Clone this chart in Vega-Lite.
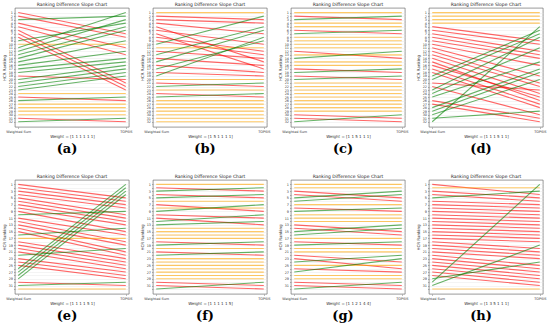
{
"$schema": "https://vega.github.io/schema/vega-lite/v6.json",
"padding": {"left": 1, "top": 1, "right": 1, "bottom": 0},
"background": "white",
"config": {
 "font": "DejaVu Sans",
 "view": {"stroke": "#555", "strokeWidth": 0.6},
 "title": {"fontSize": 4.5, "fontWeight": "normal", "color": "#222", "offset": 2},
 "axis": {"labelFontSize": 3.4, "titleFontSize": 4, "titleFontWeight": "normal", "labelColor": "#333", "titleColor": "#333", "tickSize": 1.5, "tickWidth": 0.4, "tickColor": "#555", "domain": false, "labelPadding": 1, "titlePadding": 2}
},
"datasets": {"s": [
{"p":"a","ws":1,"ts":7},{"p":"a","ws":2,"ts":8},{"p":"a","ws":3,"ts":2},{"p":"a","ws":4,"ts":11},{"p":"a","ws":5,"ts":13},{"p":"a","ws":6,"ts":21},{"p":"a","ws":7,"ts":22},{"p":"a","ws":8,"ts":23},{"p":"a","ws":9,"ts":4},{"p":"a","ws":10,"ts":10},{"p":"a","ws":11,"ts":1},{"p":"a","ws":12,"ts":3},{"p":"a","ws":13,"ts":5},{"p":"a","ws":14,"ts":6},{"p":"a","ws":15,"ts":9},{"p":"a","ws":16,"ts":12},{"p":"a","ws":17,"ts":14},{"p":"a","ws":18,"ts":15},{"p":"a","ws":19,"ts":20},{"p":"a","ws":20,"ts":16},{"p":"a","ws":21,"ts":17},{"p":"a","ws":22,"ts":18},{"p":"a","ws":23,"ts":19},{"p":"a","ws":24,"ts":24},{"p":"a","ws":25,"ts":26},{"p":"a","ws":26,"ts":25},{"p":"a","ws":27,"ts":27},{"p":"a","ws":28,"ts":28},{"p":"a","ws":29,"ts":29},{"p":"a","ws":30,"ts":30},{"p":"a","ws":31,"ts":32},{"p":"a","ws":32,"ts":31},
{"p":"b","ws":1,"ts":1},{"p":"b","ws":2,"ts":3},{"p":"b","ws":3,"ts":4},{"p":"b","ws":4,"ts":7},{"p":"b","ws":5,"ts":15},{"p":"b","ws":6,"ts":10},{"p":"b","ws":7,"ts":17},{"p":"b","ws":8,"ts":12},{"p":"b","ws":9,"ts":13},{"p":"b","ws":10,"ts":2},{"p":"b","ws":11,"ts":11},{"p":"b","ws":12,"ts":14},{"p":"b","ws":13,"ts":5},{"p":"b","ws":14,"ts":16},{"p":"b","ws":15,"ts":6},{"p":"b","ws":16,"ts":18},{"p":"b","ws":17,"ts":9},{"p":"b","ws":18,"ts":19},{"p":"b","ws":19,"ts":8},{"p":"b","ws":20,"ts":20},{"p":"b","ws":21,"ts":22},{"p":"b","ws":22,"ts":21},{"p":"b","ws":23,"ts":23},{"p":"b","ws":24,"ts":25},{"p":"b","ws":25,"ts":24},{"p":"b","ws":26,"ts":26},{"p":"b","ws":27,"ts":27},{"p":"b","ws":28,"ts":28},{"p":"b","ws":29,"ts":29},{"p":"b","ws":30,"ts":30},{"p":"b","ws":31,"ts":31},{"p":"b","ws":32,"ts":32},
{"p":"c","ws":1,"ts":1},{"p":"c","ws":2,"ts":3},{"p":"c","ws":3,"ts":2},{"p":"c","ws":4,"ts":4},{"p":"c","ws":5,"ts":5},{"p":"c","ws":6,"ts":7},{"p":"c","ws":7,"ts":6},{"p":"c","ws":8,"ts":8},{"p":"c","ws":9,"ts":9},{"p":"c","ws":10,"ts":10},{"p":"c","ws":11,"ts":11},{"p":"c","ws":12,"ts":14},{"p":"c","ws":13,"ts":13},{"p":"c","ws":14,"ts":12},{"p":"c","ws":15,"ts":15},{"p":"c","ws":16,"ts":16},{"p":"c","ws":17,"ts":18},{"p":"c","ws":18,"ts":17},{"p":"c","ws":19,"ts":20},{"p":"c","ws":20,"ts":19},{"p":"c","ws":21,"ts":21},{"p":"c","ws":22,"ts":22},{"p":"c","ws":23,"ts":23},{"p":"c","ws":24,"ts":24},{"p":"c","ws":25,"ts":25},{"p":"c","ws":26,"ts":26},{"p":"c","ws":27,"ts":27},{"p":"c","ws":28,"ts":28},{"p":"c","ws":29,"ts":29},{"p":"c","ws":30,"ts":31},{"p":"c","ws":31,"ts":32},{"p":"c","ws":32,"ts":30},
{"p":"d","ws":1,"ts":1},{"p":"d","ws":2,"ts":2},{"p":"d","ws":3,"ts":3},{"p":"d","ws":4,"ts":4},{"p":"d","ws":5,"ts":9},{"p":"d","ws":6,"ts":10},{"p":"d","ws":7,"ts":12},{"p":"d","ws":8,"ts":13},{"p":"d","ws":9,"ts":14},{"p":"d","ws":10,"ts":16},{"p":"d","ws":11,"ts":19},{"p":"d","ws":12,"ts":21},{"p":"d","ws":13,"ts":22},{"p":"d","ws":14,"ts":24},{"p":"d","ws":15,"ts":26},{"p":"d","ws":16,"ts":25},{"p":"d","ws":17,"ts":27},{"p":"d","ws":18,"ts":28},{"p":"d","ws":19,"ts":6},{"p":"d","ws":20,"ts":7},{"p":"d","ws":21,"ts":23},{"p":"d","ws":22,"ts":30},{"p":"d","ws":23,"ts":8},{"p":"d","ws":24,"ts":11},{"p":"d","ws":25,"ts":15},{"p":"d","ws":26,"ts":31},{"p":"d","ws":27,"ts":32},{"p":"d","ws":28,"ts":17},{"p":"d","ws":29,"ts":18},{"p":"d","ws":30,"ts":20},{"p":"d","ws":31,"ts":29},{"p":"d","ws":32,"ts":5},
{"p":"e","ws":1,"ts":5},{"p":"e","ws":2,"ts":6},{"p":"e","ws":3,"ts":7},{"p":"e","ws":4,"ts":8},{"p":"e","ws":5,"ts":10},{"p":"e","ws":6,"ts":11},{"p":"e","ws":7,"ts":12},{"p":"e","ws":8,"ts":13},{"p":"e","ws":9,"ts":15},{"p":"e","ws":10,"ts":9},{"p":"e","ws":11,"ts":16},{"p":"e","ws":12,"ts":18},{"p":"e","ws":13,"ts":19},{"p":"e","ws":14,"ts":21},{"p":"e","ws":15,"ts":22},{"p":"e","ws":16,"ts":14},{"p":"e","ws":17,"ts":17},{"p":"e","ws":18,"ts":23},{"p":"e","ws":19,"ts":24},{"p":"e","ws":20,"ts":25},{"p":"e","ws":21,"ts":26},{"p":"e","ws":22,"ts":20},{"p":"e","ws":23,"ts":27},{"p":"e","ws":24,"ts":28},{"p":"e","ws":25,"ts":29},{"p":"e","ws":26,"ts":1},{"p":"e","ws":27,"ts":2},{"p":"e","ws":28,"ts":3},{"p":"e","ws":29,"ts":4},{"p":"e","ws":30,"ts":31},{"p":"e","ws":31,"ts":30},{"p":"e","ws":32,"ts":32},
{"p":"f","ws":1,"ts":1},{"p":"f","ws":2,"ts":3},{"p":"f","ws":3,"ts":2},{"p":"f","ws":4,"ts":5},{"p":"f","ws":5,"ts":4},{"p":"f","ws":6,"ts":6},{"p":"f","ws":7,"ts":9},{"p":"f","ws":8,"ts":8},{"p":"f","ws":9,"ts":7},{"p":"f","ws":10,"ts":11},{"p":"f","ws":11,"ts":13},{"p":"f","ws":12,"ts":10},{"p":"f","ws":13,"ts":12},{"p":"f","ws":14,"ts":14},{"p":"f","ws":15,"ts":15},{"p":"f","ws":16,"ts":16},{"p":"f","ws":17,"ts":17},{"p":"f","ws":18,"ts":19},{"p":"f","ws":19,"ts":18},{"p":"f","ws":20,"ts":20},{"p":"f","ws":21,"ts":22},{"p":"f","ws":22,"ts":21},{"p":"f","ws":23,"ts":23},{"p":"f","ws":24,"ts":24},{"p":"f","ws":25,"ts":25},{"p":"f","ws":26,"ts":26},{"p":"f","ws":27,"ts":27},{"p":"f","ws":28,"ts":28},{"p":"f","ws":29,"ts":29},{"p":"f","ws":30,"ts":31},{"p":"f","ws":31,"ts":32},{"p":"f","ws":32,"ts":30},
{"p":"g","ws":1,"ts":1},{"p":"g","ws":2,"ts":2},{"p":"g","ws":3,"ts":5},{"p":"g","ws":4,"ts":6},{"p":"g","ws":5,"ts":3},{"p":"g","ws":6,"ts":4},{"p":"g","ws":7,"ts":7},{"p":"g","ws":8,"ts":9},{"p":"g","ws":9,"ts":8},{"p":"g","ws":10,"ts":10},{"p":"g","ws":11,"ts":11},{"p":"g","ws":12,"ts":12},{"p":"g","ws":13,"ts":15},{"p":"g","ws":14,"ts":16},{"p":"g","ws":15,"ts":13},{"p":"g","ws":16,"ts":14},{"p":"g","ws":17,"ts":17},{"p":"g","ws":18,"ts":19},{"p":"g","ws":19,"ts":18},{"p":"g","ws":20,"ts":20},{"p":"g","ws":21,"ts":21},{"p":"g","ws":22,"ts":24},{"p":"g","ws":23,"ts":26},{"p":"g","ws":24,"ts":22},{"p":"g","ws":25,"ts":25},{"p":"g","ws":26,"ts":27},{"p":"g","ws":27,"ts":23},{"p":"g","ws":28,"ts":28},{"p":"g","ws":29,"ts":29},{"p":"g","ws":30,"ts":31},{"p":"g","ws":31,"ts":32},{"p":"g","ws":32,"ts":30},
{"p":"h","ws":1,"ts":4},{"p":"h","ws":2,"ts":2},{"p":"h","ws":3,"ts":5},{"p":"h","ws":4,"ts":6},{"p":"h","ws":5,"ts":3},{"p":"h","ws":6,"ts":7},{"p":"h","ws":7,"ts":8},{"p":"h","ws":8,"ts":9},{"p":"h","ws":9,"ts":10},{"p":"h","ws":10,"ts":11},{"p":"h","ws":11,"ts":12},{"p":"h","ws":12,"ts":13},{"p":"h","ws":13,"ts":14},{"p":"h","ws":14,"ts":15},{"p":"h","ws":15,"ts":16},{"p":"h","ws":16,"ts":17},{"p":"h","ws":17,"ts":18},{"p":"h","ws":18,"ts":20},{"p":"h","ws":19,"ts":21},{"p":"h","ws":20,"ts":22},{"p":"h","ws":21,"ts":23},{"p":"h","ws":22,"ts":25},{"p":"h","ws":23,"ts":26},{"p":"h","ws":24,"ts":27},{"p":"h","ws":25,"ts":28},{"p":"h","ws":26,"ts":29},{"p":"h","ws":27,"ts":30},{"p":"h","ws":28,"ts":31},{"p":"h","ws":29,"ts":24},{"p":"h","ws":30,"ts":1},{"p":"h","ws":31,"ts":19},{"p":"h","ws":32,"ts":32}
]},
"spacing": 16,
"vconcat": [
 {"spacing": 6, "hconcat": [
  {"title": {"text": "(a)", "orient": "bottom", "anchor": "middle", "font": "DejaVu Serif", "fontSize": 13, "fontWeight": "bold", "color": "#000", "offset": 4},
   "vconcat": [{"width": 114, "height": 119, "title": "Ranking Difference Slope Chart", "data": {"name": "s"},
    "transform": [{"filter": "datum.p=='a'"}, {"fold": ["ws", "ts"], "as": ["m", "r"]}],
    "mark": {"type": "line", "strokeWidth": 1.1, "opacity": 0.6},
    "encoding": {
     "x": {"field": "m", "type": "nominal", "scale": {"type": "point", "domain": ["ws", "ts"], "padding": 0.03}, "axis": {"labelExpr": "datum.value=='ws'?'Weighted Sum':'TOPSIS'", "labelAngle": 0, "title": "Weight = [1 1 1 1 1 1]"}},
     "y": {"field": "r", "type": "quantitative", "scale": {"domain": [-0.3, 33.5], "reverse": true, "nice": false, "zero": false}, "axis": {"values": [1,2,3,4,5,6,7,8,9,10,11,12,13,14,15,16,17,18,19,20,21,22,23,24,25,26,27,28,29,30,31,32], "title": "HCR Ranking", "grid": true, "gridColor": "#e4e4e4", "gridWidth": 0.4}},
     "detail": {"field": "ws", "type": "nominal"},
     "color": {"condition": [{"test": "datum.ts<datum.ws", "value": "green"}, {"test": "datum.ts>datum.ws", "value": "red"}], "value": "orange"}
    }}]},
  {"title": {"text": "(b)", "orient": "bottom", "anchor": "middle", "font": "DejaVu Serif", "fontSize": 13, "fontWeight": "bold", "color": "#000", "offset": 4},
   "vconcat": [{"width": 114, "height": 119, "title": "Ranking Difference Slope Chart", "data": {"name": "s"},
    "transform": [{"filter": "datum.p=='b'"}, {"fold": ["ws", "ts"], "as": ["m", "r"]}],
    "mark": {"type": "line", "strokeWidth": 1.1, "opacity": 0.6},
    "encoding": {
     "x": {"field": "m", "type": "nominal", "scale": {"type": "point", "domain": ["ws", "ts"], "padding": 0.03}, "axis": {"labelExpr": "datum.value=='ws'?'Weighted Sum':'TOPSIS'", "labelAngle": 0, "title": "Weight = [1 5 1 1 1 1]"}},
     "y": {"field": "r", "type": "quantitative", "scale": {"domain": [-0.3, 33.5], "reverse": true, "nice": false, "zero": false}, "axis": {"values": [1,2,3,4,5,6,7,8,9,10,11,12,13,14,15,16,17,18,19,20,21,22,23,24,25,26,27,28,29,30,31,32], "title": "HCR Ranking", "grid": true, "gridColor": "#e4e4e4", "gridWidth": 0.4}},
     "detail": {"field": "ws", "type": "nominal"},
     "color": {"condition": [{"test": "datum.ts<datum.ws", "value": "green"}, {"test": "datum.ts>datum.ws", "value": "red"}], "value": "orange"}
    }}]},
  {"title": {"text": "(c)", "orient": "bottom", "anchor": "middle", "font": "DejaVu Serif", "fontSize": 13, "fontWeight": "bold", "color": "#000", "offset": 4},
   "vconcat": [{"width": 114, "height": 119, "title": "Ranking Difference Slope Chart", "data": {"name": "s"},
    "transform": [{"filter": "datum.p=='c'"}, {"fold": ["ws", "ts"], "as": ["m", "r"]}],
    "mark": {"type": "line", "strokeWidth": 1.1, "opacity": 0.6},
    "encoding": {
     "x": {"field": "m", "type": "nominal", "scale": {"type": "point", "domain": ["ws", "ts"], "padding": 0.03}, "axis": {"labelExpr": "datum.value=='ws'?'Weighted Sum':'TOPSIS'", "labelAngle": 0, "title": "Weight = [1 1 5 1 1 1]"}},
     "y": {"field": "r", "type": "quantitative", "scale": {"domain": [-0.3, 33.5], "reverse": true, "nice": false, "zero": false}, "axis": {"values": [1,2,3,4,5,6,7,8,9,10,11,12,13,14,15,16,17,18,19,20,21,22,23,24,25,26,27,28,29,30,31,32], "title": "HCR Ranking", "grid": true, "gridColor": "#e4e4e4", "gridWidth": 0.4}},
     "detail": {"field": "ws", "type": "nominal"},
     "color": {"condition": [{"test": "datum.ts<datum.ws", "value": "green"}, {"test": "datum.ts>datum.ws", "value": "red"}], "value": "orange"}
    }}]},
  {"title": {"text": "(d)", "orient": "bottom", "anchor": "middle", "font": "DejaVu Serif", "fontSize": 13, "fontWeight": "bold", "color": "#000", "offset": 4},
   "vconcat": [{"width": 114, "height": 119, "title": "Ranking Difference Slope Chart", "data": {"name": "s"},
    "transform": [{"filter": "datum.p=='d'"}, {"fold": ["ws", "ts"], "as": ["m", "r"]}],
    "mark": {"type": "line", "strokeWidth": 1.1, "opacity": 0.6},
    "encoding": {
     "x": {"field": "m", "type": "nominal", "scale": {"type": "point", "domain": ["ws", "ts"], "padding": 0.03}, "axis": {"labelExpr": "datum.value=='ws'?'Weighted Sum':'TOPSIS'", "labelAngle": 0, "title": "Weight = [1 1 1 5 1 1]"}},
     "y": {"field": "r", "type": "quantitative", "scale": {"domain": [-0.3, 33.5], "reverse": true, "nice": false, "zero": false}, "axis": {"values": [1,2,3,4,5,6,7,8,9,10,11,12,13,14,15,16,17,18,19,20,21,22,23,24,25,26,27,28,29,30,31,32], "title": "HCR Ranking", "grid": true, "gridColor": "#e4e4e4", "gridWidth": 0.4}},
     "detail": {"field": "ws", "type": "nominal"},
     "color": {"condition": [{"test": "datum.ts<datum.ws", "value": "green"}, {"test": "datum.ts>datum.ws", "value": "red"}], "value": "orange"}
    }}]}
 ]},
 {"spacing": 6, "hconcat": [
  {"title": {"text": "(e)", "orient": "bottom", "anchor": "middle", "font": "DejaVu Serif", "fontSize": 13, "fontWeight": "bold", "color": "#000", "offset": 4},
   "vconcat": [{"width": 114, "height": 114, "title": "Ranking Difference Slope Chart", "data": {"name": "s"},
    "transform": [{"filter": "datum.p=='e'"}, {"fold": ["ws", "ts"], "as": ["m", "r"]}],
    "mark": {"type": "line", "strokeWidth": 1.1, "opacity": 0.6},
    "encoding": {
     "x": {"field": "m", "type": "nominal", "scale": {"type": "point", "domain": ["ws", "ts"], "padding": 0.03}, "axis": {"labelExpr": "datum.value=='ws'?'Weighted Sum':'TOPSIS'", "labelAngle": 0, "title": "Weight = [1 1 1 1 5 1]"}},
     "y": {"field": "r", "type": "quantitative", "scale": {"domain": [-0.3, 33.5], "reverse": true, "nice": false, "zero": false}, "axis": {"values": [1,2,3,4,5,6,7,8,9,10,11,12,13,14,15,16,17,18,19,20,21,22,23,24,25,26,27,28,29,30,31,32], "title": "HCR Ranking", "grid": true, "gridColor": "#e4e4e4", "gridWidth": 0.4}},
     "detail": {"field": "ws", "type": "nominal"},
     "color": {"condition": [{"test": "datum.ts<datum.ws", "value": "green"}, {"test": "datum.ts>datum.ws", "value": "red"}], "value": "orange"}
    }}]},
  {"title": {"text": "(f)", "orient": "bottom", "anchor": "middle", "font": "DejaVu Serif", "fontSize": 13, "fontWeight": "bold", "color": "#000", "offset": 4},
   "vconcat": [{"width": 114, "height": 114, "title": "Ranking Difference Slope Chart", "data": {"name": "s"},
    "transform": [{"filter": "datum.p=='f'"}, {"fold": ["ws", "ts"], "as": ["m", "r"]}],
    "mark": {"type": "line", "strokeWidth": 1.1, "opacity": 0.6},
    "encoding": {
     "x": {"field": "m", "type": "nominal", "scale": {"type": "point", "domain": ["ws", "ts"], "padding": 0.03}, "axis": {"labelExpr": "datum.value=='ws'?'Weighted Sum':'TOPSIS'", "labelAngle": 0, "title": "Weight = [1 1 1 1 1 5]"}},
     "y": {"field": "r", "type": "quantitative", "scale": {"domain": [-0.3, 33.5], "reverse": true, "nice": false, "zero": false}, "axis": {"values": [1,2,3,4,5,6,7,8,9,10,11,12,13,14,15,16,17,18,19,20,21,22,23,24,25,26,27,28,29,30,31,32], "title": "HCR Ranking", "grid": true, "gridColor": "#e4e4e4", "gridWidth": 0.4}},
     "detail": {"field": "ws", "type": "nominal"},
     "color": {"condition": [{"test": "datum.ts<datum.ws", "value": "green"}, {"test": "datum.ts>datum.ws", "value": "red"}], "value": "orange"}
    }}]},
  {"title": {"text": "(g)", "orient": "bottom", "anchor": "middle", "font": "DejaVu Serif", "fontSize": 13, "fontWeight": "bold", "color": "#000", "offset": 4},
   "vconcat": [{"width": 114, "height": 114, "title": "Ranking Difference Slope Chart", "data": {"name": "s"},
    "transform": [{"filter": "datum.p=='g'"}, {"fold": ["ws", "ts"], "as": ["m", "r"]}],
    "mark": {"type": "line", "strokeWidth": 1.1, "opacity": 0.6},
    "encoding": {
     "x": {"field": "m", "type": "nominal", "scale": {"type": "point", "domain": ["ws", "ts"], "padding": 0.03}, "axis": {"labelExpr": "datum.value=='ws'?'Weighted Sum':'TOPSIS'", "labelAngle": 0, "title": "Weight = [1 1 2 1 4 4]"}},
     "y": {"field": "r", "type": "quantitative", "scale": {"domain": [-0.3, 33.5], "reverse": true, "nice": false, "zero": false}, "axis": {"values": [1,2,3,4,5,6,7,8,9,10,11,12,13,14,15,16,17,18,19,20,21,22,23,24,25,26,27,28,29,30,31,32], "title": "HCR Ranking", "grid": true, "gridColor": "#e4e4e4", "gridWidth": 0.4}},
     "detail": {"field": "ws", "type": "nominal"},
     "color": {"condition": [{"test": "datum.ts<datum.ws", "value": "green"}, {"test": "datum.ts>datum.ws", "value": "red"}], "value": "orange"}
    }}]},
  {"title": {"text": "(h)", "orient": "bottom", "anchor": "middle", "font": "DejaVu Serif", "fontSize": 13, "fontWeight": "bold", "color": "#000", "offset": 4},
   "vconcat": [{"width": 114, "height": 114, "title": "Ranking Difference Slope Chart", "data": {"name": "s"},
    "transform": [{"filter": "datum.p=='h'"}, {"fold": ["ws", "ts"], "as": ["m", "r"]}],
    "mark": {"type": "line", "strokeWidth": 1.1, "opacity": 0.6},
    "encoding": {
     "x": {"field": "m", "type": "nominal", "scale": {"type": "point", "domain": ["ws", "ts"], "padding": 0.03}, "axis": {"labelExpr": "datum.value=='ws'?'Weighted Sum':'TOPSIS'", "labelAngle": 0, "title": "Weight = [1 3 5 1 1 1]"}},
     "y": {"field": "r", "type": "quantitative", "scale": {"domain": [-0.3, 33.5], "reverse": true, "nice": false, "zero": false}, "axis": {"values": [1,2,3,4,5,6,7,8,9,10,11,12,13,14,15,16,17,18,19,20,21,22,23,24,25,26,27,28,29,30,31,32], "title": "HCR Ranking", "grid": true, "gridColor": "#e4e4e4", "gridWidth": 0.4}},
     "detail": {"field": "ws", "type": "nominal"},
     "color": {"condition": [{"test": "datum.ts<datum.ws", "value": "green"}, {"test": "datum.ts>datum.ws", "value": "red"}], "value": "orange"}
    }}]}
 ]}
]
}
